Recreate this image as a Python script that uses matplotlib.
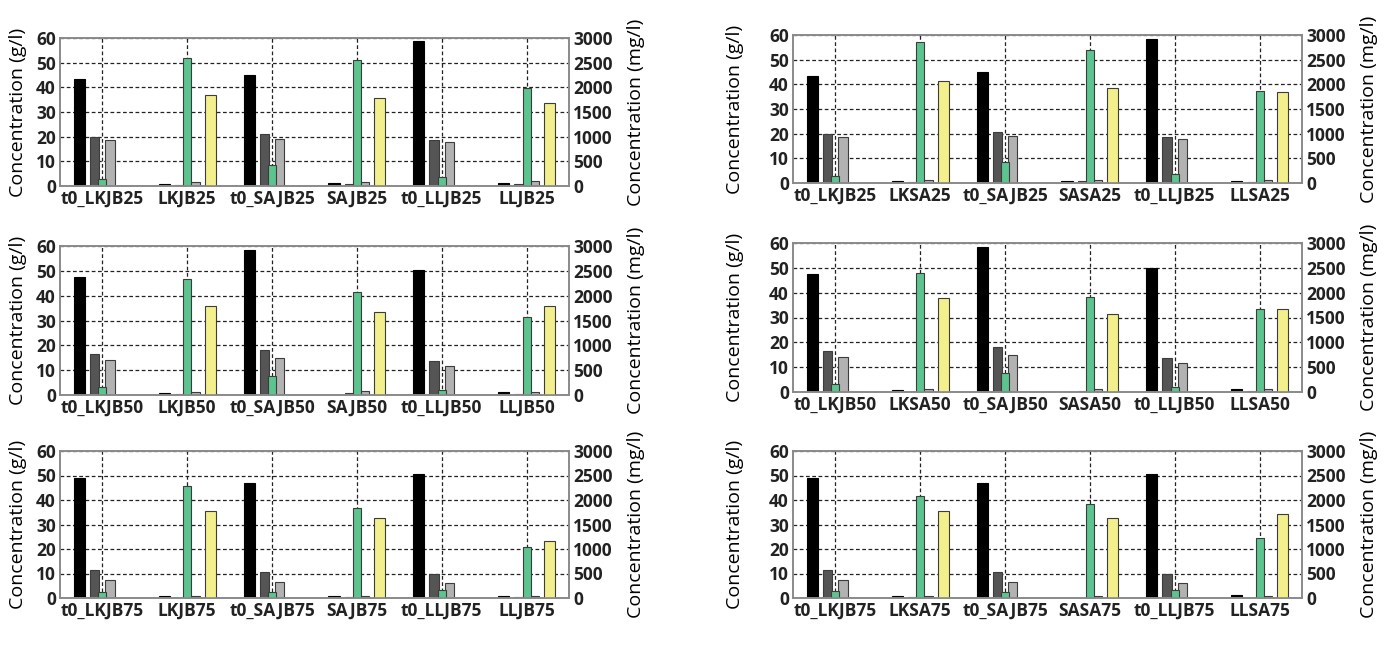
"""Six-panel twin-axis bar chart: concentrations (g/l left, mg/l right)."""

import matplotlib
matplotlib.use("Agg")
import matplotlib.pyplot as plt
from matplotlib import font_manager
import numpy as np

# panel order: row-major, left column = JB, right column = SA
LABELS = [
    ["t0_LKJB25", "LKJB25", "t0_SAJB25", "SAJB25", "t0_LLJB25", "LLJB25"],
    ["t0_LKJB25", "LKSA25", "t0_SAJB25", "SASA25", "t0_LLJB25", "LLSA25"],
    ["t0_LKJB50", "LKJB50", "t0_SAJB50", "SAJB50", "t0_LLJB50", "LLJB50"],
    ["t0_LKJB50", "LKSA50", "t0_SAJB50", "SASA50", "t0_LLJB50", "LLSA50"],
    ["t0_LKJB75", "LKJB75", "t0_SAJB75", "SAJB75", "t0_LLJB75", "LLJB75"],
    ["t0_LKJB75", "LKSA75", "t0_SAJB75", "SASA75", "t0_LLJB75", "LLSA75"],
]

# left axis (g/l)
BLACK = [
    [43.5, 0.7, 45.0, 1.2, 58.7, 1.2],
    [43.4, 0.7, 45.0, 0.9, 58.4, 0.9],
    [47.5, 0.8, 58.2, 0.0, 50.2, 1.2],
    [47.5, 0.8, 58.2, 0.0, 50.0, 1.2],
    [48.8, 0.8, 47.1, 0.8, 50.5, 0.8],
    [48.8, 0.8, 47.1, 0.0, 50.5, 1.2],
]
DARK = [
    [19.8, 0.4, 21.0, 0.7, 18.7, 0.7],
    [19.7, 0.3, 20.6, 0.7, 18.6, 0.4],
    [16.7, 0.4, 18.3, 0.7, 13.7, 0.4],
    [16.6, 0.0, 18.3, 0.3, 13.6, 0.3],
    [11.5, 0.0, 10.5, 0.3, 9.7, 0.3],
    [11.5, 0.3, 10.5, 0.0, 9.7, 0.0],
]
LIGHT = [
    [18.5, 1.6, 19.2, 1.6, 17.7, 2.0],
    [18.6, 1.2, 19.0, 1.3, 17.9, 1.3],
    [14.0, 1.2, 15.0, 1.6, 11.5, 1.2],
    [14.0, 1.2, 15.0, 1.2, 11.5, 1.2],
    [7.5, 0.7, 6.5, 0.7, 6.2, 0.7],
    [7.5, 0.7, 6.5, 0.7, 6.2, 0.7],
]
# right axis (mg/l)
GREEN = [
    [135, 2600, 435, 2555, 190, 1995],
    [147, 2855, 430, 2700, 180, 1865],
    [160, 2340, 390, 2065, 110, 1580],
    [165, 2400, 390, 1915, 100, 1675],
    [130, 2285, 115, 1840, 160, 1035],
    [135, 2090, 115, 1925, 160, 1215],
]
YELLOW = [
    [0, 1840, 0, 1785, 0, 1690],
    [0, 2065, 0, 1925, 0, 1840],
    [0, 1785, 0, 1675, 0, 1785],
    [0, 1895, 0, 1565, 0, 1675],
    [0, 1775, 0, 1640, 0, 1170],
    [0, 1775, 0, 1640, 0, 1710],
]

# axes boxes in pixels: (left, top, bottom); left ylabel right edge in pixels
BOXES = [(60, 38, 186), (793, 35, 183),
         (60, 246, 395), (793, 243, 392),
         (60, 451, 598), (793, 451, 598)]
YLAB_EDGE = {60: 27, 793: 744}
W_PX, H_PX, AX_W = 1389, 648, 509


def pick(fams):
    have = {f.name for f in font_manager.fontManager.ttflist}
    return [f for f in fams if f in have] + ["DejaVu Sans"]


TICK_FONT = pick(["Open Sans", "Lato"])
LAB_FONT = pick(["Open Sans", "Noto Sans"])

GRID = dict(color="#222222", linestyle=(0, (3, 2)), linewidth=0.9)
EDGE = "#3c3c3c"


def style_ticks(labels):
    for t in labels:
        t.set_fontfamily(TICK_FONT)
        t.set_fontweight("bold")
        t.set_fontsize(12.5)


def main() -> None:
    fig = plt.figure(figsize=(W_PX / 100, H_PX / 100), dpi=100)
    x = np.arange(6)
    for i, (left, top, bot) in enumerate(BOXES):
        ax = fig.add_axes([left / W_PX, 1 - bot / H_PX, AX_W / W_PX, (bot - top) / H_PX])
        ax.set_axisbelow(True)
        ax.grid(axis="y", **GRID)
        ax.bar(x - 0.27, BLACK[i], 0.13, color="black", edgecolor="black", lw=0.8)
        ax.bar(x - 0.09, DARK[i], 0.11, color="#555555", edgecolor=EDGE, lw=0.8)
        ax.bar(x + 0.09, LIGHT[i], 0.11, color="#b2b2b2", edgecolor=EDGE, lw=0.8)
        ax.set_xlim(-0.5, 5.5)
        ax.set_ylim(0, 60)
        ax.set_yticks(range(0, 61, 10))
        ax.set_xticks(x)
        ax.set_xticklabels(LABELS[i])
        style_ticks(ax.get_xticklabels() + ax.get_yticklabels())
        ax.tick_params(axis="both", direction="in", length=0, pad=3, colors="#222222")
        ax.set_ylabel("Concentration (g/l)", fontfamily=LAB_FONT, fontsize=14)
        ax.yaxis.set_label_coords((YLAB_EDGE[left] - left) / AX_W, 0.5)

        # secondary axis: its x grid sits above the grey bars, below green/yellow
        ax2 = ax.twinx()
        ax2.xaxis.set_visible(True)
        ax2.tick_params(axis="x", bottom=False, labelbottom=False, top=False, labeltop=False)
        ax2.set_axisbelow(True)
        ax2.grid(axis="x", **GRID)
        ax2.bar(x, GREEN[i], 0.095, color="#5cc48e", edgecolor=EDGE, lw=0.8)
        ax2.bar(x + 0.27, YELLOW[i], 0.13, color="#f2ef8c", edgecolor=EDGE, lw=0.8)
        ax2.set_xlim(-0.5, 5.5)
        ax2.set_ylim(0, 3000)
        ax2.set_yticks(range(0, 3001, 500))
        style_ticks(ax2.get_yticklabels())
        ax2.tick_params(axis="y", direction="in", length=0, pad=3, colors="#222222")
        ax2.set_ylabel("Concentration (mg/l)", fontfamily=LAB_FONT, fontsize=14)
        ax2.yaxis.set_label_coords(1.114, 0.5)
        for a in (ax, ax2):
            for s in a.spines.values():
                s.set_color("#8a8a8a")
                s.set_linewidth(1.2)

    fig.savefig("out.png", dpi=100)
    plt.close(fig)


if __name__ == "__main__":
    main()
